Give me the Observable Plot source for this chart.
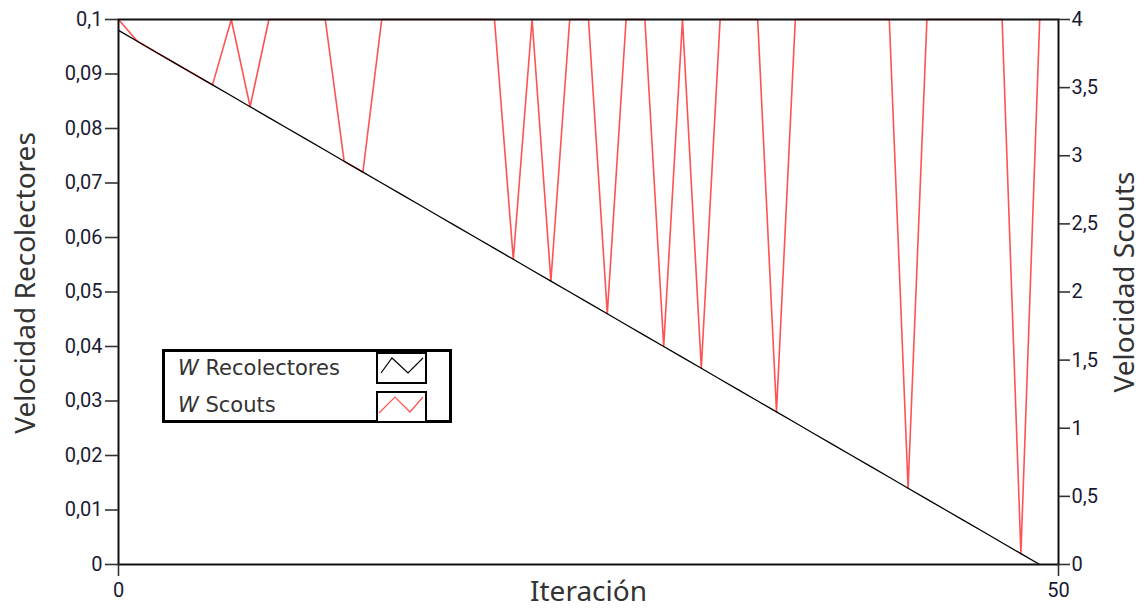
<!DOCTYPE html>
<html><head><meta charset="utf-8">
<script src="https://cdn.jsdelivr.net/npm/d3@7"></script>
<script src="https://cdn.jsdelivr.net/npm/@observablehq/plot@0.6"></script>
<style>
body{margin:0;background:#fff;}
#chart{position:relative;width:1148px;height:608px;overflow:hidden;}
#legend{position:absolute;left:162px;top:349px;}
</style></head><body><div id="chart"></div>
<script>
const iteracion = [0,1,2,3,4,5,6,7,8,9,10,11,12,13,14,15,16,17,18,19,20,21,22,23,24,25,26,27,28,29,30,31,32,33,34,35,36,37,38,39,40,41,42,43,44,45,46,47,48,49];
const wRecolectores = [0.098,0.096,0.094,0.092,0.090,0.088,0.086,0.084,0.082,0.080,0.078,0.076,0.074,0.072,0.070,0.068,0.066,0.064,0.062,0.060,0.058,0.056,0.054,0.052,0.050,0.048,0.046,0.044,0.042,0.040,0.038,0.036,0.034,0.032,0.030,0.028,0.026,0.024,0.022,0.020,0.018,0.016,0.014,0.012,0.010,0.008,0.006,0.004,0.002,0.000];
const wScouts = [4,3.84,3.76,3.68,3.6,3.52,4,3.36,4,4,4,4,2.96,2.88,4,4,4,4,4,4,4,2.24,4,2.08,4,4,1.84,4,4,1.6,4,1.44,4,4,4,1.12,4,4,4,4,4,4,0.56,4,4,4,4,4,0.08,4];
const leftTicks = [0,0.01,0.02,0.03,0.04,0.05,0.06,0.07,0.08,0.09,0.1];
const rightTicks = [0,0.5,1,1.5,2,2.5,3,3.5,4];
const xTicks = [0,50];
const seriesNames = ["Recolectores","Scouts"];
const seriesColors = ["#000000","#ff5252"];

const data = iteracion.map((t,i)=>({t, w:wRecolectores[i], s:wScouts[i]}));
const k = 0.1/4; // right axis -> left axis
const comma = v => String(+v.toFixed(4)).replace(".", ",");
const titleFont = "Noto Sans, sans-serif";

const chart = Plot.plot({
  width:1148, height:608,
  marginLeft:118, marginRight:90, marginTop:19, marginBottom:44,
  x:{domain:[0,50]},
  y:{domain:[0,0.1]},
  style:{fontFamily:"Roboto, sans-serif", fontSize:"20px", color:"#1a1a33", background:"#fff"},
  marks:[
    Plot.line(data,{x:"t", y:d=>d.s*k, stroke:seriesColors[1], strokeWidth:1.6}),
    Plot.line(data,{x:"t", y:"w", stroke:seriesColors[0], strokeWidth:1.3}),
    Plot.frame({stroke:"#111", strokeWidth:2}),
    Plot.axisY(leftTicks,{anchor:"left", tickFormat:comma, tickSize:13, tickPadding:3, label:null, stroke:"#333", strokeWidth:1.6}),
    Plot.axisY(rightTicks.map(v=>v*k),{anchor:"right", tickFormat:v=>comma(v/k), tickSize:11, tickPadding:2, label:null, stroke:"#333", strokeWidth:1.6}),
    Plot.axisX(xTicks,{anchor:"bottom", tickSize:12, tickPadding:6, label:null, stroke:"#333", strokeWidth:1.6}),
    Plot.text(["Velocidad Recolectores"],{frameAnchor:"left", dx:-92, dy:-9, rotate:-90, textAnchor:"middle", lineAnchor:"middle", fontSize:28, fill:"#333", fontFamily:titleFont}),
    Plot.text(["Velocidad Scouts"],{frameAnchor:"right", dx:67, dy:-10, rotate:-90, textAnchor:"middle", lineAnchor:"middle", fontSize:28, fill:"#333", fontFamily:titleFont}),
    Plot.text(["Iteración"],{frameAnchor:"bottom", dy:28, textAnchor:"middle", lineAnchor:"middle", fontSize:28, fill:"#333", fontFamily:titleFont})
  ]
});
const root = document.getElementById("chart");
root.appendChild(chart);

// legend
const lg = d3.select(root).append("svg").attr("id","legend").attr("width",292).attr("height",76);
lg.append("rect").attr("x",1.5).attr("y",1.5).attr("width",287).attr("height",71).attr("fill","#fff").attr("stroke","#000").attr("stroke-width",3);
const zig = [[[4,20],[15,5],[31,20],[46,5]],[[2,21],[18,5],[33,20],[46,5]]];
const rowTop = [4,43];
const baseline = [26,63];
seriesNames.forEach((name,i)=>{
  const t = lg.append("text").attr("x",16).attr("y",baseline[i]).attr("font-family","DejaVu Sans, sans-serif").attr("font-size",21).attr("fill","#333");
  t.append("tspan").attr("font-style","italic").text("W");
  t.append("tspan").text(" " + name);
  const g = lg.append("g").attr("transform",`translate(215,${rowTop[i]})`);
  g.append("rect").attr("x",0).attr("y",0).attr("width",49).attr("height",30).attr("fill","#fff").attr("stroke","#000").attr("stroke-width",2);
  g.append("polyline").attr("points",zig[i].map(p=>p.join(",")).join(" ")).attr("fill","none").attr("stroke",seriesColors[i]).attr("stroke-width",1.2);
});
</script>
</body></html>
